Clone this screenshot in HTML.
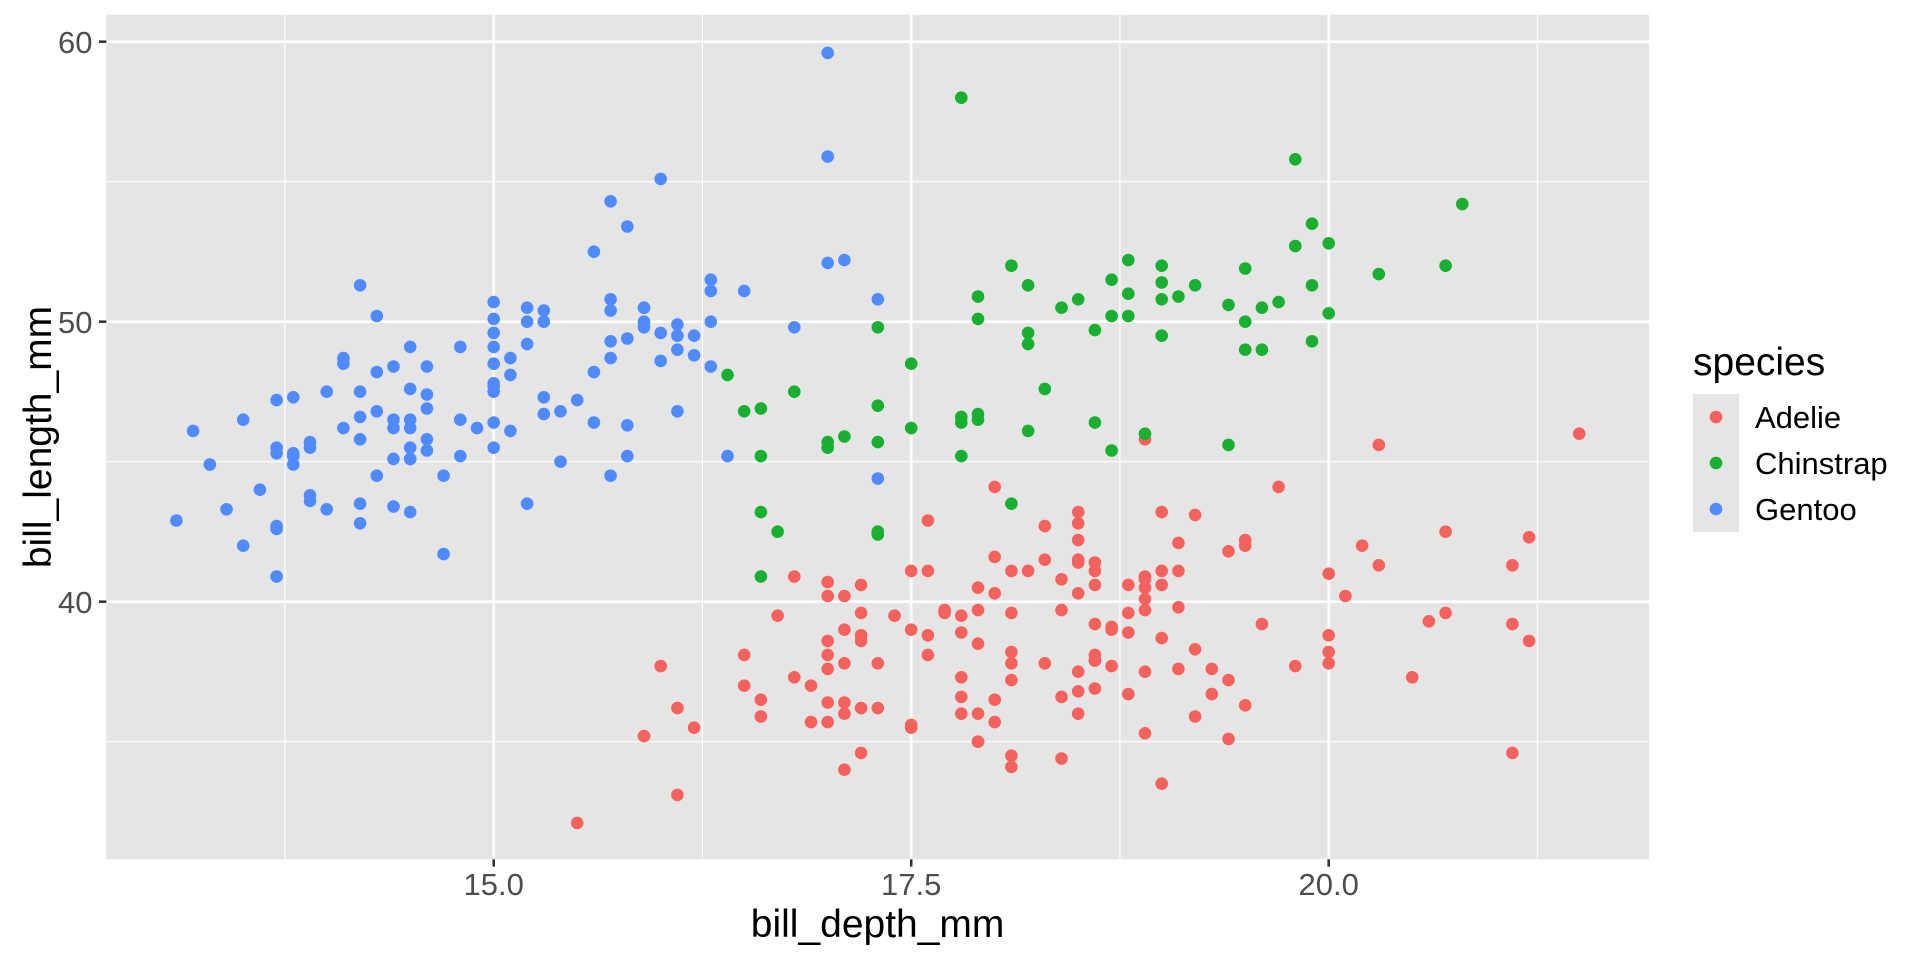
<!DOCTYPE html>
<html><head><meta charset="utf-8"><style>
html,body{margin:0;padding:0;background:#fff;}
svg{display:block;}
text{font-family:"Liberation Sans",Arial,sans-serif;}
</style></head><body>
<svg id="s" width="1920" height="960" viewBox="0 0 1920 960" xmlns="http://www.w3.org/2000/svg">
<rect x="0" y="0" width="1920" height="960" fill="#fff"/>
<rect x="106.3" y="14.7" width="1542.7" height="844.6" fill="#E5E5E5"/>
<g stroke="#fff" stroke-width="1.2">
<line x1="106.3" x2="1649" y1="181.7" y2="181.7"/>
<line x1="106.3" x2="1649" y1="461.7" y2="461.7"/>
<line x1="106.3" x2="1649" y1="741.7" y2="741.7"/>
<line y1="14.7" y2="859.3" x1="285" x2="285"/>
<line y1="14.7" y2="859.3" x1="702.4" x2="702.4"/>
<line y1="14.7" y2="859.3" x1="1119.9" x2="1119.9"/>
<line y1="14.7" y2="859.3" x1="1537.3" x2="1537.3"/>
</g>
<g stroke="#fff" stroke-width="2.6">
<line x1="106.3" x2="1649" y1="41.7" y2="41.7"/>
<line x1="106.3" x2="1649" y1="321.7" y2="321.7"/>
<line x1="106.3" x2="1649" y1="601.7" y2="601.7"/>
<line y1="14.7" y2="859.3" x1="493.7" x2="493.7"/>
<line y1="14.7" y2="859.3" x1="911.2" x2="911.2"/>
<line y1="14.7" y2="859.3" x1="1328.7" x2="1328.7"/>
</g>
<g id="pts"></g>
<g stroke="#333" stroke-width="2.6">
<line x1="99" x2="106.3" y1="41.7" y2="41.7"/>
<line x1="99" x2="106.3" y1="321.7" y2="321.7"/>
<line x1="99" x2="106.3" y1="601.7" y2="601.7"/>
<line y1="859.3" y2="866.6" x1="493.7" x2="493.7"/>
<line y1="859.3" y2="866.6" x1="911.2" x2="911.2"/>
<line y1="859.3" y2="866.6" x1="1328.7" x2="1328.7"/>
</g>
<g fill="#4D4D4D" font-size="31">
<text x="92.5" y="53" text-anchor="end">60</text>
<text x="92.5" y="333" text-anchor="end">50</text>
<text x="92.5" y="613" text-anchor="end">40</text>
<text x="493.7" y="895" text-anchor="middle">15.0</text>
<text x="911.2" y="895" text-anchor="middle">17.5</text>
<text x="1328.7" y="895" text-anchor="middle">20.0</text>
</g>
<text x="877.6" y="937" font-size="39" text-anchor="middle" fill="#000">bill_depth_mm</text>
<text transform="translate(51,437) rotate(-90)" font-size="39" text-anchor="middle" fill="#000">bill_length_mm</text>
<text x="1693" y="375" font-size="39" fill="#000">species</text>
<rect x="1693" y="394" width="46" height="138" fill="#E5E5E5"/>
<circle cx="1716" cy="417" r="6.3" fill="#F5615C"/>
<circle cx="1716" cy="463" r="6.3" fill="#19AF30"/>
<circle cx="1716" cy="509" r="6.3" fill="#4F8BFF"/>
<g font-size="31" fill="#000">
<text x="1755" y="428">Adelie</text>
<text x="1755" y="474">Chinstrap</text>
<text x="1755" y="520">Gentoo</text>
</g>
</svg>
<script>
var A=[[39.1,18.7],[39.5,17.4],[40.3,18],[36.7,19.3],[39.3,20.6],[38.9,17.8],[39.2,19.6],[34.1,18.1],[42,20.2],[37.8,17.1],[37.8,17.3],[41.1,17.6],[38.6,21.2],[34.6,21.1],[36.6,17.8],[38.7,19],[42.5,20.7],[34.4,18.4],[46,21.5],[37.8,18.3],[37.7,18.7],[35.9,19.2],[38.2,18.1],[38.8,17.2],[35.3,18.9],[40.6,18.6],[40.5,17.9],[37.9,18.6],[40.5,18.9],[39.5,16.7],[37.2,18.1],[39.5,17.8],[40.9,18.9],[36.4,17],[39.2,21.1],[38.8,20],[42.2,18.5],[37.6,19.3],[39.8,19.1],[36.5,18],[40.8,18.4],[36,18.5],[44.1,19.7],[37,16.9],[39.6,18.8],[41.1,19],[37.5,18.9],[36,17.9],[42.3,21.2],[39.6,17.7],[40.1,18.9],[35,17.9],[42,19.5],[34.5,18.1],[41.4,18.6],[39,17.5],[40.6,18.8],[36.5,16.6],[37.6,19.1],[35.7,16.9],[41.3,21.1],[37.6,17],[41.1,18.2],[36.4,17.1],[41.6,18],[35.5,16.2],[41.1,19.1],[35.9,16.6],[41.8,19.4],[33.5,19],[39.7,18.4],[39.6,17.2],[45.8,18.9],[35.5,17.5],[42.8,18.5],[40.9,16.8],[37.2,19.4],[36.2,16.1],[42.1,19.1],[34.6,17.2],[42.9,17.6],[36.7,18.8],[35.1,19.4],[37.3,17.8],[41.3,20.3],[36.3,19.5],[36.9,18.6],[38.3,19.2],[38.9,18.8],[35.7,18],[41.1,18.1],[34,17.1],[39.6,18.1],[36.2,17.3],[40.8,18.9],[38.1,18.6],[40.3,18.5],[33.1,16.1],[43.2,18.5],[35,17.9],[41,20],[37.7,16],[37.8,20],[37.9,18.6],[39.7,18.9],[38.6,17.2],[38.2,20],[38.1,17],[43.2,19],[38.1,16.5],[45.6,20.3],[39.7,17.7],[42.2,19.5],[39.6,20.7],[42.7,18.3],[38.6,17],[37.3,20.5],[35.7,17],[41.1,18.6],[36.2,17.2],[37.7,19.8],[40.2,17],[41.4,18.5],[35.2,15.9],[40.6,19],[38.8,17.6],[41.5,18.3],[39,17.1],[44.1,18],[38.5,17.9],[43.1,19.2],[36.8,18.5],[37.5,18.5],[38.1,17.6],[41.1,17.5],[35.6,17.5],[40.2,20.1],[37,16.5],[39.7,17.9],[40.2,17.1],[40.6,17.2],[32.1,15.5],[40.7,17],[37.3,16.8],[39,18.7],[39.2,18.6],[36.6,18.4],[36,17.8],[37.8,18.1],[36,17.1],[41.5,18.5]];
var G=[[46.1,13.2],[50,16.3],[48.7,14.1],[50,15.2],[47.6,14.5],[46.5,13.5],[45.4,14.6],[46.7,15.3],[43.3,13.4],[46.8,15.4],[40.9,13.7],[49,16.1],[45.5,13.7],[48.4,14.6],[45.8,14.6],[49.3,15.7],[42,13.5],[49.2,15.2],[46.2,14.5],[48.7,15.1],[50.2,14.3],[45.1,14.5],[46.5,14.5],[46.3,15.8],[42.9,13.1],[46.1,15.1],[44.5,14.3],[47.8,15],[48.2,14.3],[50,15.3],[47.3,15.3],[42.8,14.2],[45.1,14.5],[59.6,17],[49.1,14.8],[48.4,16.3],[42.6,13.7],[44.4,17.3],[44,13.6],[48.7,15.7],[42.7,13.7],[49.6,16],[45.3,13.7],[49.6,15],[50.5,15.9],[43.6,13.9],[45.5,13.9],[50.5,15.9],[44.9,13.3],[45.2,15.8],[46.6,14.2],[48.5,14.1],[45.1,14.4],[50.1,15],[46.5,14.4],[45,15.4],[43.8,13.9],[45.5,15],[43.2,14.5],[50.4,15.3],[45.3,13.8],[46.2,14.9],[45.7,13.9],[54.3,15.7],[45.8,14.2],[49.8,16.8],[46.2,14.4],[49.5,16.2],[43.5,14.2],[50.7,15],[47.7,15],[46.4,15.6],[48.2,15.6],[46.5,14.8],[46.4,15],[48.6,16],[47.5,14.2],[51.1,16.3],[45.2,13.8],[45.2,16.4],[49.1,14.5],[52.5,15.6],[47.4,14.6],[50,15.9],[44.9,13.8],[50.8,17.3],[43.4,14.4],[51.3,14.2],[47.5,14],[52.1,17],[47.5,15],[52.2,17.1],[45.5,14.5],[49.5,16.1],[44.5,14.7],[50.8,15.7],[49.4,15.8],[46.9,14.6],[48.4,14.4],[51.1,16.5],[48.5,15],[55.9,17],[47.2,15.5],[49.1,15],[47.3,13.8],[46.8,16.1],[41.7,14.7],[53.4,15.8],[43.3,14],[48.1,15.1],[50.5,15.2],[49.8,15.9],[43.5,15.2],[51.5,16.3],[46.2,14.1],[55.1,16],[44.5,15.7],[48.8,16.2],[47.2,13.7],[46.8,14.3],[50.4,15.7],[45.2,14.8],[49.9,16.1]];
var C=[[46.5,17.9],[50,19.5],[51.3,19.2],[45.4,18.7],[52.7,19.8],[45.2,17.8],[46.1,18.2],[51.3,18.2],[46,18.9],[51.3,19.9],[46.6,17.8],[51.7,20.3],[47,17.3],[52,18.1],[45.9,17.1],[50.5,19.6],[50.3,20],[58,17.8],[46.4,18.6],[49.2,18.2],[42.4,17.3],[48.5,17.5],[43.2,16.6],[50.6,19.4],[46.7,17.9],[52,19],[50.5,18.4],[49.5,19],[46.4,17.8],[52.8,20],[40.9,16.6],[54.2,20.8],[42.5,16.7],[51,18.8],[49.7,18.6],[47.5,16.8],[47.6,18.3],[52,20.7],[46.9,16.6],[53.5,19.9],[49,19.5],[46.2,17.5],[50.9,19.1],[45.5,17],[50.9,17.9],[50.8,18.5],[50.1,17.9],[49,19.6],[51.5,18.7],[49.8,17.3],[48.1,16.4],[51.4,19],[45.7,17.3],[50.7,19.7],[42.5,17.3],[52.2,18.8],[45.2,16.6],[49.3,19.9],[50.2,18.8],[45.6,19.4],[51.9,19.5],[46.8,16.5],[45.7,17],[55.8,19.8],[43.5,18.1],[49.6,18.2],[50.8,19],[50.2,18.7]];
var g=document.getElementById('pts'),ns='http://www.w3.org/2000/svg';
function add(arr,col){arr.forEach(function(p){var c=document.createElementNS(ns,'circle');c.setAttribute('cx',(493.7+(p[1]-15)*167).toFixed(1));c.setAttribute('cy',(321.7-(p[0]-50)*28).toFixed(1));c.setAttribute('r','6.3');c.setAttribute('fill',col);g.appendChild(c);});}
add(A,'#F5615C');add(C,'#19AF30');add(G,'#4F8BFF');
</script>
</body></html>
